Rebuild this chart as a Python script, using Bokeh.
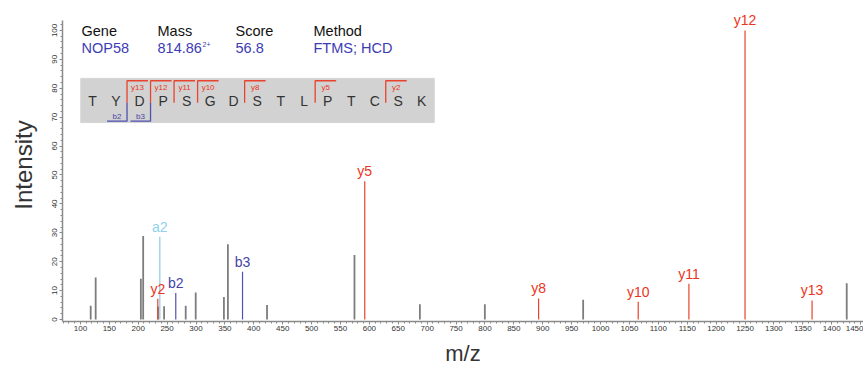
from math import pi
from bokeh.plotting import figure
from bokeh.core.properties import value
from bokeh.models import (ColumnDataSource, LabelSet, Label, BoxAnnotation, Range1d,
                          SingleIntervalTicker)
from bokeh.embed import file_html
from bokeh.resources import INLINE

# ---------------- data ----------------
# unassigned (gray) peaks
other_mz = [117.8, 126.4, 204.6, 208.6, 234.2, 244.8, 282.2, 299.5, 348.3, 355.2,
            422.9, 574.2, 687.4, 799.8, 969.9, 1426.0]
other_int = [4.8, 14.5, 14.1, 28.9, 4.5, 4.6, 4.8, 9.3, 7.8, 26.0,
             5.0, 22.3, 5.3, 5.3, 6.8, 12.5]

# assigned fragment ions
ion_labels = ["a2", "y2", "b2", "b3", "y5", "y8", "y10", "y11", "y12", "y13"]
ion_mz = [237.4, 233.9, 265.0, 380.5, 592.0, 892.8, 1065.2, 1152.9, 1250.0, 1366.0]
ion_int = [28.6, 7.2, 9.2, 16.5, 47.8, 7.3, 6.1, 12.4, 100.0, 6.6]
ion_type = ["a", "y", "b", "b", "y", "y", "y", "y", "y", "y"]

# peptide annotation
sequence = "TYDPSGDSTLPTCSK"
y_frag = [13, 12, 11, 10, 8, 5, 2]
b_frag = [2, 3]
header_keys = ["Gene", "Mass", "Score", "Method"]
header_vals = ["NOP58", "814.86", "56.8", "FTMS; HCD"]
charge = "2+"

x_ticks_step = 50
y_ticks_step = 10

# ---------------- styles ----------------
C_GRAY = "#7d7d7d"
C_LINE = {"y": "#e8432e", "b": "#5050b0", "a": "#8ccbe6"}
C_TEXT = {"y": "#ec3420", "b": "#4545a5", "a": "#8fd2ee"}
C_HEAD = "#3c3cb4"
FONT = "Liberation Sans"

W, H = 863, 368
FL, FR, FT, FB = 62, 863, 8, 322   # frame edges in page pixels
PX_PER_UNIT = 2.9
X0, X1 = 69, 1455
Y0 = -(FB - 320) / PX_PER_UNIT
Y1 = Y0 + (FB - FT) / PX_PER_UNIT
Y_AXIS_TOP = Y0 + (FB - 20) / PX_PER_UNIT


def px2x(px):
    return X0 + (px - FL) * (X1 - X0) / (FR - FL)


def py2y(py):
    return Y0 + (FB - py) * (Y1 - Y0) / (FB - FT)


p = figure(width=W, height=H, output_backend="svg", toolbar_location=None,
           x_range=Range1d(X0, X1), y_range=Range1d(Y0, Y1),
           min_border_left=FL, min_border_right=W - FR,
           min_border_top=FT, min_border_bottom=H - FB)
p.outline_line_color = None
p.grid.visible = False
p.background_fill_color = "white"
p.border_fill_color = "white"

# axes
for ax in (p.xaxis[0], p.yaxis[0]):
    ax.axis_line_color = "#8a8a8a"
    ax.axis_line_width = 1.5
    ax.major_tick_line_color = "#8a8a8a"
    ax.minor_tick_line_color = "#8a8a8a"
    ax.major_tick_in = 0
    ax.major_tick_out = 3
    ax.minor_tick_in = 0
    ax.minor_tick_out = 2
    ax.major_label_text_font = FONT
    ax.major_label_text_font_size = "8px"
    ax.major_label_text_color = "#333333"
    ax.axis_label_text_font = FONT
    ax.axis_label_text_font_style = "normal"
    ax.axis_label_text_color = "#333333"

p.xaxis.ticker = SingleIntervalTicker(interval=x_ticks_step, num_minor_ticks=5)
p.yaxis.ticker = SingleIntervalTicker(interval=y_ticks_step, num_minor_ticks=5)
p.yaxis.major_label_orientation = "vertical"
p.yaxis.bounds = (Y0, Y_AXIS_TOP)

p.xaxis.axis_label = "m/z"
p.xaxis.axis_label_text_font_size = "22px"
p.xaxis.major_label_standoff = 1
p.xaxis.axis_label_standoff = 7

p.yaxis.axis_label = "Intensity"
p.yaxis.axis_label_text_font_size = "24px"
p.yaxis.major_label_standoff = 2
p.yaxis.axis_label_standoff = 13

# peaks
src_other = ColumnDataSource(dict(x=other_mz, y=other_int, y0=[0] * len(other_mz)))
p.segment(x0="x", y0="y0", x1="x", y1="y", source=src_other,
          line_color=C_GRAY, line_width=1.8)

src_ion = ColumnDataSource(dict(
    x=ion_mz, y=ion_int, y0=[0] * len(ion_mz), text=ion_labels,
    lc=[C_LINE[t] for t in ion_type], tc=[C_TEXT[t] for t in ion_type]))
p.segment(x0="x", y0="y0", x1="x", y1="y", source=src_ion,
          line_color="lc", line_width=1.2)

p.add_layout(LabelSet(x="x", y="y", text="text", source=src_ion, text_color="tc",
                      text_font=value(FONT), text_font_size="14px", text_align="center",
                      text_baseline="alphabetic", y_offset=5))

# header
head_px = [81, 157, 235, 313]
for k, v, hx in zip(header_keys, header_vals, head_px):
    p.add_layout(Label(x=px2x(hx), y=py2y(31), text=k, text_font=FONT,
                       text_font_size="14.5px", text_color="#111111",
                       text_align="left", text_baseline="middle"))
    p.add_layout(Label(x=px2x(hx), y=py2y(48), text=v, text_font=FONT,
                       text_font_size="14.5px", text_color=C_HEAD,
                       text_align="left", text_baseline="middle"))
p.add_layout(Label(x=px2x(202), y=py2y(44), text=charge, text_font=FONT,
                   text_font_size="7px", text_color=C_HEAD,
                   text_align="left", text_baseline="middle"))

# sequence box
p.add_layout(BoxAnnotation(left=px2x(80), right=px2x(434), top=py2y(78), bottom=py2y(122.5),
                           fill_color="#d2d2d2", fill_alpha=1.0,
                           line_color="#c4c4c4", line_width=1, level="underlay"))

step = 23.52
letter_px = [92 + i * step for i in range(len(sequence))]
p.add_layout(LabelSet(
    x="x", y="y", text="t",
    source=ColumnDataSource(dict(x=[px2x(v) for v in letter_px],
                                 y=[py2y(101)] * len(sequence),
                                 t=list(sequence))),
    text_font=value(FONT), text_font_size="14px", text_color="#333333",
    text_align="center", text_baseline="middle"))

n = len(sequence)
yxs, yys, ylx, yly, ylt = [], [], [], [], []
for k in y_frag:
    i = n - k - 1
    cx = letter_px[i] + 11
    yxs.append([px2x(cx), px2x(cx), px2x(cx + 21)])
    yys.append([py2y(102.5), py2y(80.5), py2y(80.5)])
    ylx.append(px2x(cx + 10.5)); yly.append(py2y(87)); ylt.append("y%d" % k)
p.multi_line(xs=yxs, ys=yys, line_color=C_LINE["y"], line_width=1.3)

bxs, bys, blx, bly, blt = [], [], [], [], []
for k in b_frag:
    i = k - 1
    cx = letter_px[i] + 11
    bxs.append([px2x(cx), px2x(cx), px2x(cx - 20)])
    bys.append([py2y(102.5), py2y(121), py2y(121)])
    blx.append(px2x(cx - 10)); bly.append(py2y(116)); blt.append("b%d" % k)
p.multi_line(xs=bxs, ys=bys, line_color=C_LINE["b"], line_width=1.3)

p.add_layout(LabelSet(x="x", y="y", text="t",
                      source=ColumnDataSource(dict(x=ylx, y=yly, t=ylt)),
                      text_font=value(FONT), text_font_size="8px", text_color=C_TEXT["y"],
                      text_align="center", text_baseline="middle"))
p.add_layout(LabelSet(x="x", y="y", text="t",
                      source=ColumnDataSource(dict(x=blx, y=bly, t=blt)),
                      text_font=value(FONT), text_font_size="8px", text_color=C_TEXT["b"],
                      text_align="center", text_baseline="middle"))

open("out.html", "w").write(file_html(p, INLINE))
